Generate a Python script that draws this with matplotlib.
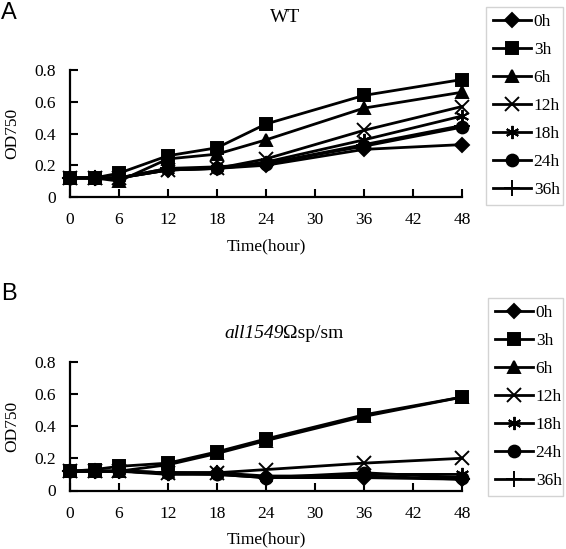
import matplotlib
matplotlib.use("Agg")
import matplotlib.pyplot as plt

plt.rcParams['font.family'] = ['Liberation Serif', 'DejaVu Serif']
plt.rcParams['font.size'] = 12.5

hours = [0, 3, 6, 12, 18, 24, 36, 48]
labels = ['0h', '3h', '6h', '12h', '18h', '24h', '36h']
markers = ['D', 's', '^', 'x', (6, 2, 0), 'o', '+']
msizes = [7.5, 9, 9, 9.5, 9.5, 8.5, 11]

# WT panel
wt = [
    [0.12, 0.12, 0.12, 0.17, 0.18, 0.20, 0.30, 0.33],
    [0.12, 0.12, 0.15, 0.26, 0.31, 0.46, 0.64, 0.74],
    [0.12, 0.12, 0.10, 0.24, 0.27, 0.36, 0.56, 0.66],
    [0.12, 0.12, 0.12, 0.17, 0.18, 0.24, 0.42, 0.57],
    [0.12, 0.12, 0.12, 0.17, 0.18, 0.22, 0.36, 0.51],
    [0.12, 0.12, 0.12, 0.18, 0.18, 0.21, 0.32, 0.44],
    [0.12, 0.12, 0.12, 0.18, 0.19, 0.21, 0.33, 0.45],
]
# mutant panel
mut = [
    [0.12, 0.12, 0.12, 0.11, 0.11, 0.08, 0.08, 0.07],
    [0.12, 0.13, 0.15, 0.17, 0.24, 0.32, 0.47, 0.58],
    [0.12, 0.12, 0.12, 0.16, 0.23, 0.31, 0.46, 0.58],
    [0.12, 0.12, 0.12, 0.11, 0.11, 0.13, 0.17, 0.20],
    [0.12, 0.12, 0.12, 0.10, 0.10, 0.08, 0.10, 0.10],
    [0.12, 0.12, 0.12, 0.11, 0.10, 0.08, 0.11, 0.08],
    [0.12, 0.12, 0.12, 0.11, 0.11, 0.09, 0.09, 0.07],
]

W, H = 566, 549
fig = plt.figure(figsize=(W / 100, H / 100), dpi=100)


def panel(rect, data, leg_box):
    ax = fig.add_axes(rect)
    for vals, lab, m, ms in zip(data, labels, markers, msizes):
        ax.plot(hours, vals, color='black', lw=2, marker=m, ms=ms,
                mew=1.4, label=lab, clip_on=False)
    ax.set_xlim(0, 48)
    ax.set_ylim(0, 0.8)
    ax.set_xticks(range(0, 49, 6))
    ax.set_yticks([0, 0.2, 0.4, 0.6, 0.8])
    ax.set_yticklabels(['0', '0.2', '0.4', '0.6', '0.8'])
    ax.spines['top'].set_visible(False)
    ax.spines['right'].set_visible(False)
    for s in ['left', 'bottom']:
        ax.spines[s].set_linewidth(1.6)
    ax.tick_params(direction='in', length=6, width=1.5)
    ax.tick_params(axis='x', pad=11)
    ax.tick_params(axis='y', pad=10)
    ax.set_xlabel('Time(hour)', labelpad=7)
    ax.set_ylabel('OD750', labelpad=10)
    x0, y0, x1, y1 = leg_box
    leg = ax.legend(loc='upper left',
                    bbox_to_anchor=(x0 / W, 1 - y1 / H, (x1 - x0) / W, (y1 - y0) / H),
                    bbox_transform=fig.transFigure, mode='expand',
                    fancybox=False, edgecolor='#c8c8c8', handlelength=2.2,
                    handletextpad=0.15, labelspacing=0.68, borderpad=0.4,
                    borderaxespad=0)
    leg.get_frame().set_linewidth(1.0)
    return ax


panel([70 / W, 1 - 197 / H, 392 / W, 127 / H], wt, (486, 7, 563, 207))
panel([70 / W, 1 - 490.5 / H, 392 / W, 128.8 / H], mut, (488, 298, 563, 497))

fig.text(1 / W, 1 - 2 / H, 'A', family='Liberation Sans', fontsize=17, va='top')
fig.text(1 / W, 1 - 283 / H, 'B', family='Liberation Sans', fontsize=17, va='top')
fig.text(285 / W, 1 - 17 / H, 'WT', ha='center', va='center', fontsize=14)

# mutant title: italic gene name followed by upright text
t1 = fig.text(224 / W, 1 - 333 / H, 'all1549', style='italic', ha='left',
              va='center', fontsize=14)
fig.canvas.draw()
bb = t1.get_window_extent()
fig.text(bb.x1 / fig.bbox.width, 1 - 333 / H, 'Ωsp/sm', ha='left',
         va='center', fontsize=14)

fig.savefig('out.png', dpi=100)
